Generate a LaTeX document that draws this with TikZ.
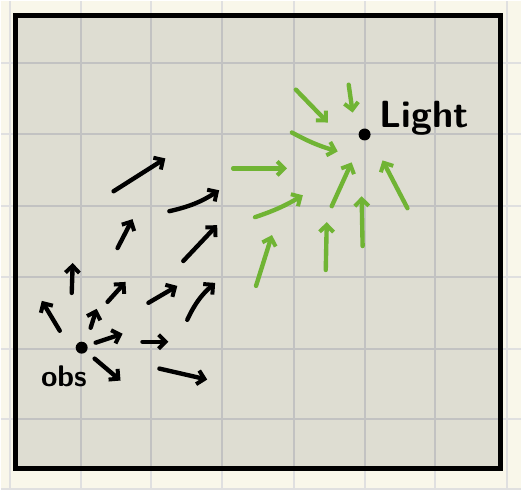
\documentclass[tikz,border=0pt]{standalone}
\usepackage{amsmath,amssymb}
\usetikzlibrary{arrows.meta}

\definecolor{paper}{RGB}{249,247,234}
\definecolor{board}{RGB}{222,221,210}
\definecolor{gridin}{RGB}{194,194,194}
\definecolor{gridout}{RGB}{224,224,224}
\definecolor{leaf}{RGB}{112,180,52}

\begin{document}
\begin{tikzpicture}[x=1pt, y=-1pt,
    field/.style={line width=4.4pt, line cap=round, line join=round,
      -{Straight Barb[length=7pt,width=14pt,line width=4pt]}},
    dot/.style={circle, fill=black, inner sep=0pt, minimum size=12pt},
    hand/.style={font=\sffamily\bfseries, inner sep=0pt}]
        % paper and board
        \fill[paper] (0,0) rectangle (522,491);
        \foreach \x in {9,80,151,222,294,365,436,508}
          \draw[gridout, line width=2pt] (\x,0) -- (\x,491);
        \foreach \y in {62,134,206,277,349,420,490}
          \draw[gridout, line width=2pt] (0,\y) -- (522,\y);
        \fill[board] (14.5,14.5) rectangle (501,469.5);
        \begin{scope}
          \clip (14.5,14.5) rectangle (501,469.5);
          \foreach \x in {80,151,222,294,365,436}
            \draw[gridin, line width=2pt] (\x,0) -- (\x,491);
          \foreach \y in {62,134,206,277,349,420}
            \draw[gridin, line width=2pt] (0,\y) -- (522,\y);
        \end{scope}
        \draw[line width=5pt] (14.5,14.5) rectangle (501,469.5);

        % observer and light
        \node[dot] (obs) at (81,348) {};
        \node[dot] (light) at (365,134) {};
        \node[hand, anchor=base west, font=\fontsize{30}{32}\sffamily\bfseries]
          (obslabel) at ([xshift=-41pt,yshift=-39pt]obs.center) {obs};
        \node[hand, anchor=base west, font=\fontsize{38}{42}\sffamily\bfseries]
          (lightlabel) at ([xshift=15pt,yshift=7pt]light.center) {Light};

        % black field around the observer
        \foreach \a/\b/\c/\d/\e in {113/191/165/158/0, 169/211/219/190/-10, 117/248/132/219/0,
            183/261/217/225/0, 71/293/72/263/0, 59/331/41/301/0, 90/328/96/309/0,
            107/302/125/282/0, 148/303/177/286/0, 187/320/215/283/12, 95/343/122/334/0,
            142/342/168/342/0, 94/359/120/381/0, 159/369/207/380/0}
          \draw[field] (\a,\b) to[bend left=\e] (\c,\d);

        % green field into the light
        \foreach \a/\b/\c/\d/\e in {296/89/328/122/0, 349/84/353/112/0, 292/132/338/151/-6,
            233/168/287/168/0, 332/206/352/162/0, 408/208/383/160/0, 255/217/303/195/-6,
            363/246/362/196/0, 326/270/327/222/0, 256/286/272/235/0}
          \draw[field, leaf] (\a,\b) to[bend left=\e] (\c,\d);
\end{tikzpicture}
\end{document}
